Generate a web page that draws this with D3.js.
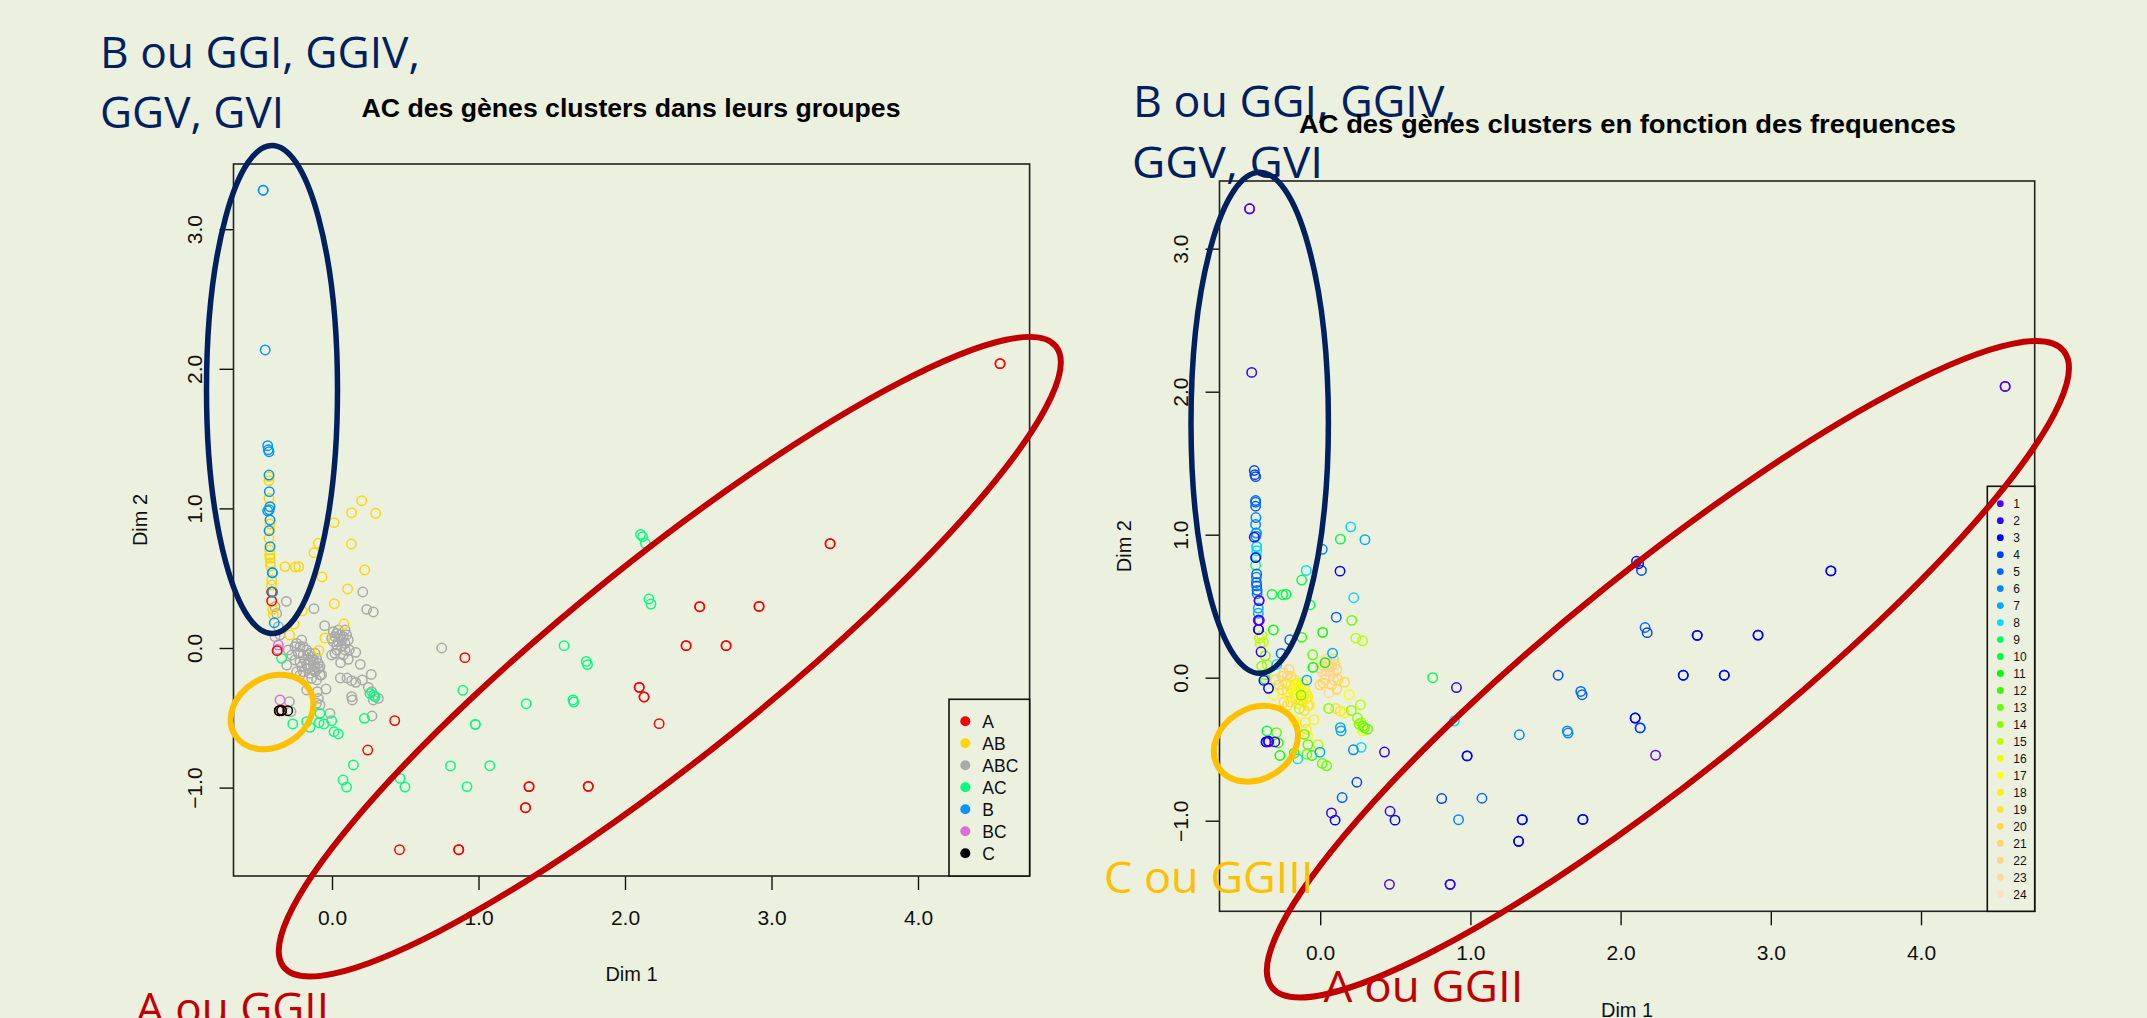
<!DOCTYPE html>
<html>
<head>
<meta charset="utf-8">
<script src="https://cdn.jsdelivr.net/npm/d3@7"></script>
<style>
  html, body { margin: 0; padding: 0; background: #ecf0df; overflow: hidden; }
  svg { display: block; }
</style>
</head>
<body>
<div id="container"></div>
<script>
// every point is [dim1, dim2, frequency]
const pointsABC = [
  [0.009,0.117,23],[0.032,0.105,11],[0.02,0.081,22],[0.055,0.093,23],[0.077,0.081,22],[0.1,0.093,22],
  [-0.002,0.069,22],[0.043,0.045,23],[0.089,0.033,23],[0.111,0.057,21],[0.066,0.01,24],[0.02,-0.038,21],
  [-0.002,-0.05,20],[0.059,-0.105,23],[0.111,-0.081,20],[0.162,-0.031,20],[0.118,-0.014,21],[0.032,0.021,23],
  [0.009,0.045,22],[0.089,-0.014,22],[0.077,-0.05,21],[0.043,0.129,22],[0.066,0.057,23],[0.032,-0.014,22],
  [0.089,0.129,20],
  [-0.207,0.057,21],[-0.253,0.01,21],[-0.218,0.01,22],[-0.173,-0.014,19],[-0.298,-0.014,20],[-0.275,-0.05,20],
  [-0.23,-0.038,21],[-0.196,-0.05,18],[-0.15,-0.038,18],[-0.116,-0.038,17],[-0.253,-0.086,20],[-0.218,-0.098,19],
  [-0.184,-0.086,18],[-0.15,-0.086,17],[-0.093,-0.11,18],[-0.127,-0.122,13],[-0.173,-0.122,18],[-0.207,-0.134,17],
  [-0.309,-0.122,17],[-0.241,-0.17,20],[-0.218,-0.193,21],[-0.15,-0.181,18],[-0.116,-0.17,18],[-0.082,-0.193,19],
  [-0.139,-0.217,15],[-0.105,-0.229,20],[-0.071,-0.193,18],[-0.139,-0.062,17],[-0.105,-0.074,18],[-0.162,-0.146,19],
  [-0.196,-0.17,19],[-0.127,-0.158,19],[-0.093,-0.146,18],[-0.241,0.033,22],[-0.196,0.01,21],[-0.162,-0.05,16],
  [-0.127,-0.086,17],[-0.116,-0.134,18],[-0.082,-0.134,18],
  [-0.389,0.081,14],[-0.355,0.093,15],[-0.389,0.296,15],[-0.378,0.248,15],[-0.366,0.153,14],
  [0.749,0,10],[-0.312,0.334,11],[-0.123,0.282,12],[0.21,0.401,13],[0.237,0.277,15],[0.282,0.258,15],
  [-0.05,0.16,13],
  [0.057,-0.215,14],[0.102,-0.215,19],[0.134,-0.234,19],[0.162,-0.246,16],[0.207,-0.229,14],[0.268,-0.189,15],
  [0.193,-0.117,17],[0.248,-0.282,14],[0.271,-0.313,15],[0.282,-0.372,16],[0.316,-0.361,13],[0.134,-0.349,7],
  [0.139,-0.372,7],[-0.041,-0.294,16],[-0.173,-0.301,17],[-0.1,-0.313,18],[-0.093,-0.361,19],[-0.082,-0.408,17],
  [-0.014,-0.468,15],[-0.105,-0.396,13],[-0.291,-0.384,13],[-0.28,-0.456,12],[0.273,-0.487,8]
];
const pointsAB = [
  [0.203,1.055,8],[0.134,0.969,10],[0.298,0.965,7],[0.014,0.898,6],[-0.093,0.75,8],[-0.123,0.683,10],
  [0.132,0.745,3],[-0.321,0.583,10],[-0.25,0.58,10],[-0.227,0.583,10],[-0.068,0.509,10],[0.223,0.559,8],
  [0.107,0.423,5],[0.016,0.317,11],[-0.203,0.265,5],[0.082,0.172,7],[-0.26,0.17,5],[-0.289,0.093,8],
  [-0.048,0.072,11],[-0.089,-0.017,7],
  [-0.43,1.227,5],[-0.43,1.199,5],[-0.43,1.072,6],[-0.428,1.012,7],[-0.423,0.917,8],[-0.423,0.888,8],
  [-0.425,0.845,8],[-0.43,0.786,9],[-0.425,0.702,6],[-0.425,0.666,5],[-0.423,0.642,5],[-0.42,0.611,5],
  [-0.42,0.587,6],[-0.412,0.487,7],[-0.412,0.451,7],[-0.41,0.403,4],[-0.41,0.337,3],[-0.405,0.277,15],
  [-0.4,0.24,15]
];
const pointsAC = [
  [2.106,0.814,3],[2.12,0.797,3],[2.139,0.75,4],[2.163,0.351,5],[2.177,0.315,4],[1.584,0.017,4],
  [1.735,-0.096,5],[1.744,-0.119,5],[0.893,-0.303,8],[1.326,-0.399,6],[1.645,-0.372,6],[1.65,-0.387,6],
  [0.978,-0.547,3],[0.978,-0.547,3],[0.809,-0.845,4],[1.077,-0.843,5],[0.921,-0.993,6],[0.498,-0.996,3],
  [0.465,-0.934,2],[0.146,-0.838,5],[0.075,-0.946,2],[0.099,-0.996,3],[0.221,-0.504,6],
  [-0.268,-0.544,11],[-0.15,-0.568,8],[-0.173,-0.528,12],[-0.082,-0.468,13],[-0.089,-0.535,13],
  [-0.055,-0.544,12],[-0.002,-0.521,7],[0.014,-0.6,13],[0.043,-0.616,13],[-0.344,-0.074,3],
  [0.259,-0.325,14],[0.294,-0.349,13],[0.285,-0.34,13]
];
const pointsBC = [[-0.366,0.021,14],[-0.37,-0.01,10],[-0.355,-0.372,10]];
const pointsA = [
  [3.4,0.747,3],[3.4,0.747,3],[2.51,0.296,3],[2.51,0.296,3],[2.915,0.298,3],[2.915,0.298,3],
  [2.417,0.017,3],[2.417,0.017,3],[2.69,0.017,3],[2.69,0.017,3],[2.097,-0.282,3],[2.097,-0.282,3],
  [2.13,-0.351,4],[2.13,-0.351,4],[2.233,-0.542,1],[0.907,-0.069,2],[0.428,-0.52,2],[0.244,-0.731,4],
  [1.345,-0.993,3],[1.345,-0.993,3],[1.749,-0.991,3],[1.749,-0.991,3],[1.321,-1.144,3],[1.321,-1.144,3],
  [0.461,-1.445,1],[0.865,-1.445,2],[0.865,-1.445,2],[4.56,2.037,1],[4.56,2.037,1],
  [-0.412,0.401,1],[-0.412,0.337,2],[-0.375,-0.019,2],[-0.344,-0.444,3]
];
const pointsB = [
  [-0.47,3.279,1],[-0.47,3.279,1],[-0.456,2.135,2],[-0.439,1.449,4],[-0.43,1.406,4],[-0.435,1.42,4],
  [-0.43,1.239,5],[-0.428,1.12,6],[-0.423,1.012,7],[-0.439,0.983,2],[-0.428,0.99,6],[-0.423,0.917,8],
  [-0.43,0.84,3],[-0.423,0.726,5],[-0.407,0.539,1],[-0.407,0.539,1],[-0.405,0.401,1],[-0.394,0.181,2]
];
const pointsC = [[-0.36,-0.449,3],[-0.36,-0.449,3],[-0.344,-0.449,2],[-0.302,-0.449,1]];

const groupNames = ["A", "AB", "ABC", "AC", "B", "BC", "C"];
const groupColors = ["#ff0000", "#ffd700", "#a9a9a9", "#00ff7f", "#0096ff", "#da70d6", "#000000"];
const freqLabels = d3.range(1, 25).map(String);
const freqColors = ["#5500ff", "#3300ff", "#0000ff", "#0044ff", "#0066ff", "#0088ff", "#00aaff", "#00ddff",
  "#00ff66", "#00ff44", "#00ff00", "#33ff00", "#66ff00", "#88ff00", "#bbff00", "#eeff00",
  "#ffff00", "#ffee11", "#ffe033", "#ffd844", "#ffd566", "#ffd488", "#ffd8a0", "#ffe0c0"];
const xTicks = [0, 1, 2, 3, 4];
const yTicks = [-1, 0, 1, 2, 3];

const NAVY = "#002060", RED = "#c00000", GOLD = "#ffc000";

const width = 2147;
const height = 1018;

// groups in the order they overplot each other on the left
const drawOrder = [
  ["ABC", pointsABC], ["AB", pointsAB], ["AC", pointsAC], ["BC", pointsBC],
  ["A", pointsA], ["B", pointsB], ["C", pointsC]
];
const allPoints = drawOrder.flatMap(([g, pts]) =>
  pts.map(p => ({ dim1: p[0], dim2: p[1], freq: p[2], group: g })));

const svg = d3.select("#container").append("svg")
  .attr("width", width)
  .attr("height", height)
  .attr("viewBox", "0 0 " + width + " " + height)
  .style("background", "#ecf0df");

function drawPanel(o) {
  const x = d3.scaleLinear().domain([0, 4]).range([o.x0, o.x0 + 4 * o.xUnit]);
  const y = d3.scaleLinear().domain([0, 1]).range([o.y0, o.y0 - o.yUnit]);
  const g = svg.append("g").style("font-family", "'Liberation Sans', Arial, sans-serif");

  //----------------------------POINTS----------------------------//
  g.append("g").selectAll("circle")
    .data(o.points)
    .enter().append("circle")
    .attr("cx", d => x(d.dim1))
    .attr("cy", d => y(d.dim2))
    .attr("r", 4.7)
    .attr("fill", "none")
    .attr("stroke", o.color)
    .attr("stroke-width", 1.5);

  //-----------------------------AXES-----------------------------//
  const xAxis = g.append("g")
    .attr("transform", "translate(0," + o.bottom + ")")
    .call(d3.axisBottom(x).tickValues(xTicks).tickSize(14).tickPadding(20));
  const yAxis = g.append("g")
    .attr("transform", "translate(" + o.left + ",0)")
    .call(d3.axisLeft(y).tickValues(yTicks).tickSize(14));
  xAxis.select(".domain").remove();
  yAxis.select(".domain").remove();
  xAxis.selectAll("line").attr("stroke", "#111").attr("stroke-width", 1.4);
  yAxis.selectAll("line").attr("stroke", "#111").attr("stroke-width", 1.4);
  xAxis.selectAll("text").attr("fill", "#111").style("font-size", "21px").style("font-family", "inherit");
  yAxis.selectAll("text")
    .attr("fill", "#111")
    .attr("x", null).attr("dy", null)
    .attr("text-anchor", "middle")
    .attr("transform", "translate(-32,0) rotate(-90)")
    .style("font-size", "21px").style("font-family", "inherit");

  g.append("rect")
    .attr("x", o.left).attr("y", o.top)
    .attr("width", o.right - o.left).attr("height", o.bottom - o.top)
    .attr("fill", "none").attr("stroke", "#222").attr("stroke-width", 1.6);

  g.append("text")
    .attr("x", (o.left + o.right) / 2).attr("y", o.xLabelY)
    .attr("text-anchor", "middle").attr("fill", "#111")
    .style("font-size", "20px").text("Dim 1");
  g.append("text")
    .attr("transform", "translate(" + o.yLabelX + "," + (o.top + o.bottom) / 2 + ") rotate(-90)")
    .attr("text-anchor", "middle").attr("fill", "#111")
    .style("font-size", "20px").text("Dim 2");

  //----------------------------LEGEND----------------------------//
  const l = o.legend;
  g.append("rect")
    .attr("x", l.x0).attr("y", l.y0)
    .attr("width", o.right - l.x0).attr("height", o.bottom - l.y0)
    .attr("fill", "#ecf0df").attr("stroke", "#111").attr("stroke-width", 1.6);
  const rows = g.append("g").selectAll("g")
    .data(l.labels)
    .enter().append("g")
    .attr("transform", (d, i) => "translate(0," + (l.first + i * l.step) + ")");
  rows.append("circle")
    .attr("cx", l.dotX).attr("r", l.dotR)
    .attr("fill", (d, i) => l.colors[i]);
  rows.append("text")
    .attr("x", l.textX).attr("dy", "0.36em")
    .attr("fill", "#111")
    .style("font-size", l.fontSize + "px")
    .text(d => d);

  //-------------------------ANNOTATIONS--------------------------//
  g.selectAll("ellipse")
    .data(o.ellipses)
    .enter().append("ellipse")
    .attr("transform", d => "translate(" + d.cx + "," + d.cy + ") rotate(" + d.rot + ")")
    .attr("rx", d => d.rx).attr("ry", d => d.ry)
    .attr("fill", "none")
    .attr("stroke", d => d.color)
    .attr("stroke-width", d => d.sw);

  svg.append("g").selectAll("text")
    .data(o.notes)
    .enter().append("text")
    .attr("x", d => d.x).attr("y", d => d.y)
    .attr("fill", d => d.color)
    .attr("textLength", d => d.w)
    .attr("lengthAdjust", "spacingAndGlyphs")
    .style("font-family", "'Open Sans', 'Noto Sans', sans-serif")
    .style("font-size", "43px")
    .text(d => d.text);

  svg.append("text")
    .attr("x", o.titleX).attr("y", o.titleY)
    .attr("textLength", o.titleW)
    .attr("lengthAdjust", "spacingAndGlyphs")
    .attr("fill", "#000")
    .style("font-family", "'Liberation Sans', Arial, sans-serif")
    .style("font-weight", "bold")
    .style("font-size", "25px")
    .text(o.title);
}

const groupColor = d => groupColors[groupNames.indexOf(d.group)];
const freqColor = d => freqColors[d.freq - 1];

drawPanel({
  title: "AC des gènes clusters dans leurs groupes",
  titleX: 361.5, titleY: 116.5, titleW: 539,
  points: allPoints,
  color: groupColor,
  left: 233.5, right: 1029.6, top: 164, bottom: 876,
  x0: 332, xUnit: 146.5, y0: 648, yUnit: 139.6,
  xLabelY: 980.5, yLabelX: 146.5,
  legend: { x0: 949, y0: 699.3, first: 721.3, step: 22, dotX: 965.3, dotR: 5, textX: 982.3, fontSize: 17.5,
    labels: groupNames, colors: groupColors },
  ellipses: [
    { cx: 272, cy: 389.5, rx: 65.5, ry: 244, rot: 0, color: NAVY, sw: 5.5 },
    { cx: 669.8, cy: 656.7, rx: 495.4, ry: 98.6, rot: -38.8, color: RED, sw: 6 },
    { cx: 272, cy: 712, rx: 43.6, ry: 34.5, rot: -31.5, color: GOLD, sw: 6 }
  ],
  notes: [
    { text: "B ou GGI, GGIV,", x: 100, y: 68, w: 320, color: NAVY },
    { text: "GGV, GVI", x: 100, y: 128, w: 184, color: NAVY },
    { text: "A ou GGII", x: 136, y: 1024, w: 193, color: RED }
  ]
});

drawPanel({
  title: "AC des gènes clusters en fonction des frequences",
  titleX: 1299, titleY: 132.5, titleW: 657,
  // lowest frequencies were plotted last, so they sit on top
  points: allPoints.slice().sort((a, b) => d3.descending(a.freq, b.freq)),
  color: freqColor,
  left: 1219.5, right: 2034.7, top: 181, bottom: 911.3,
  x0: 1320.2, xUnit: 150.2, y0: 677.7, yUnit: 143,
  xLabelY: 1017, yLabelX: 1131,
  legend: { x0: 1987.3, y0: 486.3, first: 503.7, step: 16.98, dotX: 2000.3, dotR: 3.4, textX: 2013.3, fontSize: 12,
    labels: freqLabels, colors: freqColors },
  ellipses: [
    { cx: 1259.7, cy: 422.8, rx: 68.7, ry: 250.5, rot: 0, color: NAVY, sw: 5.5 },
    { cx: 1667.9, cy: 669.3, rx: 507.9, ry: 102.8, rot: -38.8, color: RED, sw: 6 },
    { cx: 1255.9, cy: 743.7, rx: 44.3, ry: 35.2, rot: -31.5, color: GOLD, sw: 6 }
  ],
  notes: [
    { text: "B ou GGI, GGIV,", x: 1133, y: 116.5, w: 323, color: NAVY },
    { text: "GGV, GVI", x: 1132, y: 178, w: 191, color: NAVY },
    { text: "C ou GGIII", x: 1104, y: 893, w: 209.5, color: GOLD },
    { text: "A ou GGII", x: 1323.5, y: 1002, w: 200, color: RED }
  ]
});
</script>
</body>
</html>
